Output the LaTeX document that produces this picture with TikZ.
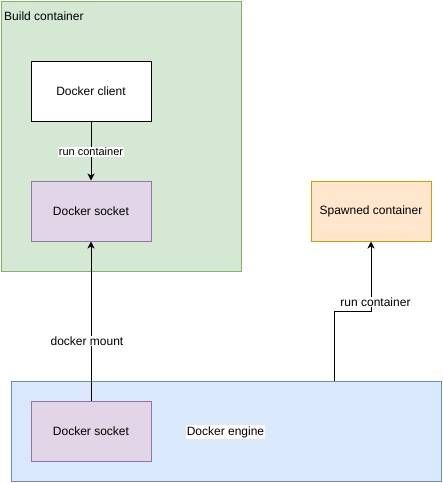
\documentclass[tikz,border=0pt]{standalone}
\usepackage{fontspec}
\setmainfont{Liberation Sans}
\usetikzlibrary{arrows.meta}
\definecolor{greenfill}{HTML}{D5E8D4}
\definecolor{greenline}{HTML}{82B366}
\definecolor{purplefill}{HTML}{E1D5E7}
\definecolor{purpleline}{HTML}{9673A6}
\definecolor{bluefill}{HTML}{DAE8FC}
\definecolor{blueline}{HTML}{6C8EBF}
\definecolor{orangefill}{HTML}{FFE6CC}
\definecolor{orangeline}{HTML}{D79B00}
\tikzset{
  box/.style={draw, line width=1pt, minimum width=120pt, minimum height=60pt, inner sep=0pt, font=\fontsize{12pt}{14pt}\selectfont},
  edgelabel/.style={fill=white, inner sep=1pt, font=\fontsize{11pt}{13pt}\selectfont},
  biglabel/.style={fill=white, inner sep=1pt, font=\fontsize{12pt}{14pt}\selectfont},
  arr/.style={line width=1pt, -{Stealth[length=7pt,width=7pt,inset=2pt]}},
  con/.style={line width=1pt}
}
\begin{document}
\begin{tikzpicture}[x=1pt,y=-1pt]
\useasboundingbox (0,0) rectangle (443,483);
% containers
\node[draw=greenline, fill=greenfill, line width=1pt, minimum width=240pt, minimum height=270pt, inner sep=0pt, anchor=north west] (build) at (1,1) {};
\node[anchor=west, inner sep=0pt, font=\fontsize{12pt}{14pt}\selectfont] (buildlabel) at (4,16) {Build container};
\node[draw=blueline, fill=bluefill, line width=1pt, minimum width=430pt, minimum height=100pt, inner sep=0pt, anchor=north west] (engine) at (11,381) {};
\node[biglabel] (enginelabel) at (225.5,432) {Docker engine};
% boxes
\node[box, fill=white] (client) at (91,91) {Docker client};
\node[box, draw=purpleline, fill=purplefill] (socketa) at (91,211) {Docker socket};
\node[box, draw=purpleline, fill=purplefill] (socketb) at (91,431) {Docker socket};
\node[box, draw=orangeline, fill=orangefill] (spawned) at (371,211) {Spawned container};
% connectors
\draw[arr] (client.south) -- (socketa.north);
\node[edgelabel] (lab1) at (91,152) {run container};
\draw[arr] (socketb.north) -- (socketa.south);
\node[biglabel] (lab2) at (87,341) {docker mount};
\coordinate (e1) at (334,381);
\coordinate (bend) at (371,311);
\draw[arr] (e1) |- (bend) -- (spawned.south);
\node[biglabel] (lab3) at (375.5,302) {run container};
\end{tikzpicture}
\end{document}
